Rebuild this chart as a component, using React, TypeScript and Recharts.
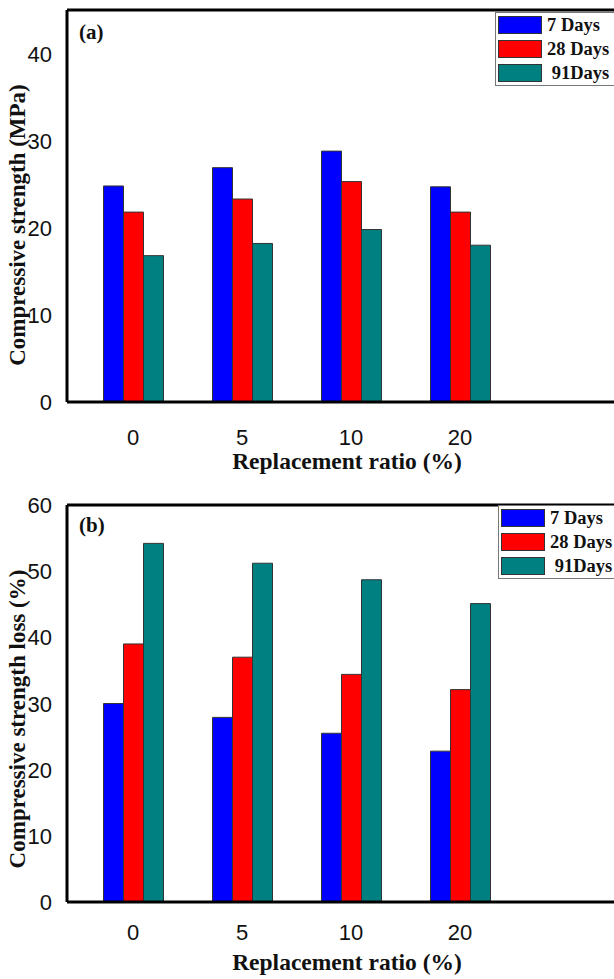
import React from 'react';
import { BarChart, Bar, XAxis, YAxis, Legend, Label, ReferenceLine } from 'recharts';

// replacement ratio (%) categories
const ratios = ['0', '5', '10', '20'];

// compressive strength (MPa)
const strength7 = [24.8, 26.9, 28.8, 24.7];
const strength28 = [21.8, 23.3, 25.3, 21.8];
const strength91 = [16.8, 18.2, 19.8, 18.0];

// compressive strength loss (%)
const loss7 = [30.0, 27.9, 25.5, 22.8];
const loss28 = [39.0, 37.0, 34.4, 32.1];
const loss91 = [54.2, 51.2, 48.7, 45.1];

const seriesNames = ['7 Days', '28 Days', ' 91Days'];
const seriesColors = ['#0000ff', '#ff0000', '#008080'];

const strengthTicks = [0, 10, 20, 30, 40];
const lossTicks = [0, 10, 20, 30, 40, 50, 60];

const toRows = (a: number[], b: number[], c: number[]) =>
  ratios.map((r, i) => ({ ratio: r, d7: a[i], d28: b[i], d91: c[i] }));

const strengthData = toRows(strength7, strength28, strength91);
const lossData = toRows(loss7, loss28, loss91);

const SANS = '"Liberation Sans", Arial, sans-serif';
const SERIF = '"Liberation Serif", "Times New Roman", serif';

const LegendBox = (props: any) => {
  // keep series order (the default sorter puts " 91Days" first)
  const items = [...(props.payload || [])].sort(
    (a: any, b: any) => seriesNames.indexOf(a.value) - seriesNames.indexOf(b.value)
  );
  return (
    <div style={{ border: '1px solid #777', background: '#fff', width: 150, boxSizing: 'border-box' }}>
      {items.map((it: any) => (
        <div key={it.value} style={{ display: 'flex', alignItems: 'center', height: 24, paddingLeft: 2 }}>
          <span style={{ display: 'inline-block', width: 42, height: 16, background: it.color, border: '1px solid #333' }} />
          <span style={{ marginLeft: 5, font: `bold 18.5px ${SERIF}`, whiteSpace: 'pre', color: '#111' }}>{it.value}</span>
        </div>
      ))}
    </div>
  );
};

interface PanelProps {
  data: any[];
  height: number;
  top: number;
  marginTop: number;
  marginBottom: number;
  yMax: number;
  ticks: number[];
  yTitle: string;
  yTitleY: number;
  xTitleY: number;
  xTickOffset: number;
  tag: string;
  tagY: number;
  legendLeft: number;
  legendTop: number;
}

const Panel = (p: PanelProps) => {
  const YTick = ({ x, y, payload }: any) => (
    <text x={x - 7} y={y + 8} textAnchor="end" fontFamily={SANS} fontSize={22} fill="#111">
      {payload.value}
    </text>
  );
  const XTick = ({ x, y, payload }: any) => (
    <text x={x} y={y + p.xTickOffset} textAnchor="middle" fontFamily={SANS} fontSize={22} fill="#111">
      {payload.value}
    </text>
  );

  return (
    <div style={{ position: 'absolute', left: 0, top: p.top }}>
      <BarChart
        width={640}
        height={p.height}
        data={p.data}
        margin={{ top: p.marginTop, right: 0, bottom: p.marginBottom, left: 0 }}
        barSize={20}
        barGap={0}
      >
        <XAxis
          dataKey="ratio"
          height={30}
          padding={{ left: 11.5, right: 125.5 }}
          axisLine={{ stroke: '#000', strokeWidth: 3 }}
          tickLine={false}
          tick={XTick}
          interval={0}
        >
          <Label
            content={() => (
              <text x={347} y={p.xTitleY} textAnchor="middle" fontFamily={SERIF} fontWeight="bold" fontSize={23.5} fill="#111">
                Replacement ratio (%)
              </text>
            )}
          />
        </XAxis>
        <YAxis
          width={67}
          domain={[0, p.yMax]}
          ticks={p.ticks}
          axisLine={{ stroke: '#000', strokeWidth: 3 }}
          tickLine={false}
          tick={YTick}
        >
          <Label
            content={() => (
              <text
                x={25}
                y={p.yTitleY}
                transform={`rotate(-90 25 ${p.yTitleY})`}
                textAnchor="middle"
                fontFamily={SERIF}
                fontWeight="bold"
                fontSize={23}
                fill="#111"
              >
                {p.yTitle}
              </text>
            )}
          />
        </YAxis>
        {['d7', 'd28', 'd91'].map((k, i) => (
          <Bar
            key={k}
            dataKey={k}
            name={seriesNames[i]}
            fill={seriesColors[i]}
            stroke="#333"
            strokeWidth={1}
            isAnimationActive={false}
          />
        ))}
        {/* frame line along the top of the plot */}
        <ReferenceLine y={p.yMax} stroke="#000" strokeWidth={3} ifOverflow="visible">
          <Label
            content={() => (
              <text x={79} y={p.tagY} fontFamily={SERIF} fontWeight="bold" fontSize={21} fill="#111">
                {p.tag}
              </text>
            )}
          />
        </ReferenceLine>
        <Legend
          layout="vertical"
          align="center"
          verticalAlign="middle"
          content={LegendBox}
          wrapperStyle={{ left: p.legendLeft, top: p.legendTop, width: 150 }}
        />
      </BarChart>
    </div>
  );
};

export default function App() {
  return (
    <div style={{ position: 'absolute', left: 0, top: 0, width: 614, height: 979, overflow: 'hidden', background: '#fff' }}>
      <Panel
        data={strengthData}
        height={480}
        top={0}
        marginTop={10}
        marginBottom={48}
        yMax={45}
        ticks={strengthTicks}
        yTitle="Compressive strength (MPa)"
        yTitleY={225}
        xTitleY={469}
        xTickOffset={34.5}
        tag="(a)"
        tagY={39}
        legendLeft={495}
        legendTop={12}
      />
      <Panel
        data={lossData}
        height={489}
        top={490}
        marginTop={15}
        marginBottom={47}
        yMax={60}
        ticks={lossTicks}
        yTitle="Compressive strength loss (%)"
        yTitleY={229}
        xTitleY={480}
        xTickOffset={29.5}
        tag="(b)"
        tagY={42}
        legendLeft={498}
        legendTop={15}
      />
    </div>
  );
}
